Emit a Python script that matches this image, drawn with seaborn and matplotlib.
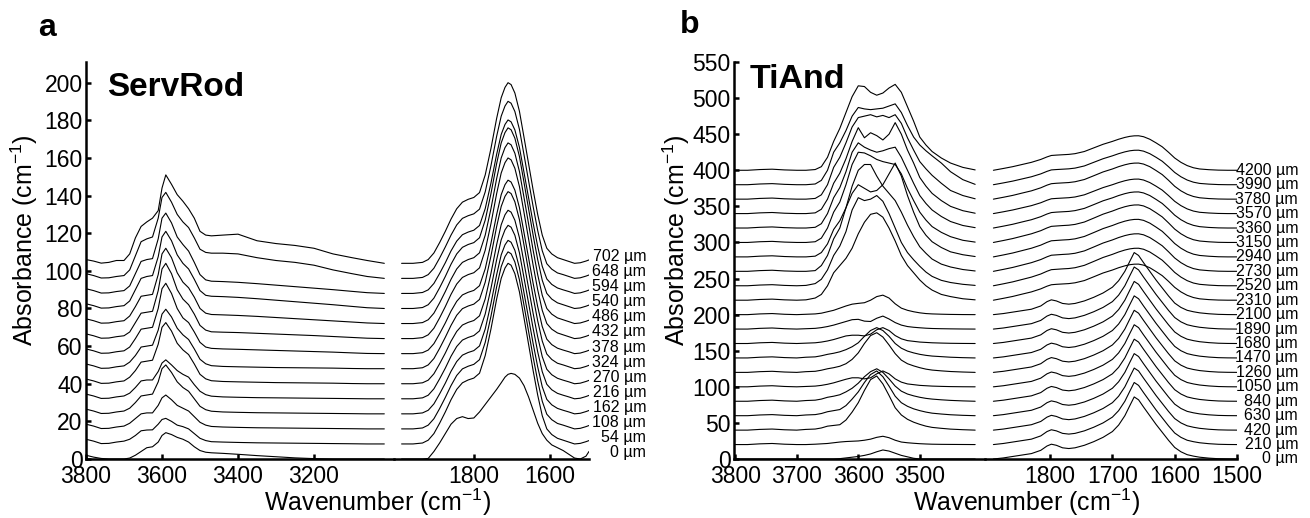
import numpy as np
import pandas as pd
import matplotlib
matplotlib.use("Agg")
import matplotlib.pyplot as plt
import seaborn as sns

# ------------------------------------------------------------------ data
# Panel a (ServRod): profile position (µm) and vertical stacking offset
A_THICK = [0, 54, 108, 162, 216, 270, 324, 378, 432, 486, 540, 594, 648, 702]
A_OFFSET = [0, 8, 16, 24, 32, 40, 48, 56, 64, 72, 80, 88, 96, 104]

A_WN_OH = [3800, 3780, 3760, 3740, 3720, 3700, 3685, 3670, 3655, 3640, 3625, 3610,
           3600, 3590, 3575, 3560, 3545, 3530, 3515, 3500, 3485, 3470, 3440, 3400,
           3350, 3300, 3250, 3200, 3150, 3100, 3060, 3015]
A_OH = [
    [2, 1, 0.3, 0, 0, 0, 0.5, 2, 4, 6, 6.5, 9, 12.5, 14, 13, 11.5, 10.5, 9, 6.5, 4.5, 3.6, 3.3, 3, 2.5, 1.8, 1.2, 0.6, 0.2, 0, 0, 0, 0],
    [2.5, 1.5, 0.2, 0.3, 1, 1.5, 2.5, 4.5, 7, 7.4, 7.5, 10.5, 13, 13.6, 12, 10, 9.2, 8, 5.5, 3, 1.8, 1.2, 1, 0.8, 0.6, 0.5, 0.4, 0.3, 0.2, 0.1, 0, 0],
    [2.5, 1.5, 0.2, 0.3, 1, 1.5, 3, 5.5, 8, 8.5, 8.5, 12.5, 16.5, 18, 15.5, 12.5, 11, 9.5, 6.5, 3.5, 2, 1.3, 1, 0.8, 0.6, 0.5, 0.4, 0.3, 0.2, 0.1, 0, 0],
    [2.5, 1.5, 0.2, 0.3, 1, 1.5, 3, 6, 9.5, 10, 10.5, 17, 24, 26, 22, 17, 14, 12, 8, 4, 2.2, 1.4, 1, 0.8, 0.6, 0.5, 0.4, 0.3, 0.2, 0.1, 0, 0],
    [2.5, 1.5, 0.2, 0.3, 1, 1.5, 3, 6, 9.5, 10, 10, 14.5, 19, 20.7, 18, 15, 13, 11.5, 7.5, 4, 2.2, 1.4, 1, 0.8, 0.6, 0.5, 0.4, 0.3, 0.2, 0.1, 0, 0],
    [2.5, 1.5, 0.2, 0.3, 1, 1.5, 3.5, 7, 11.5, 12, 12.5, 21, 30, 32.5, 28, 21.5, 18, 15.5, 10.5, 5, 2.6, 1.6, 1.2, 1, 0.8, 0.6, 0.5, 0.4, 0.3, 0.1, 0, 0],
    [2.5, 1.5, 0.2, 0.3, 1, 1.5, 3.5, 7, 11.5, 12, 12.5, 20.5, 29, 31.6, 27.5, 21.5, 18, 15.5, 10.5, 5, 2.6, 1.6, 1.2, 1, 0.8, 0.6, 0.5, 0.4, 0.3, 0.1, 0, 0],
    [2.5, 1.5, 0.2, 0.3, 1, 1.5, 3.5, 8, 13, 13.5, 14, 24, 34.5, 37.4, 32, 24, 19, 16.5, 11.5, 6, 3.5, 2.8, 2.5, 2.3, 2, 1.7, 1.4, 1.1, 0.8, 0.4, 0.1, 0],
    [2.5, 1.5, 0.2, 0.3, 1, 1.5, 3.5, 8.5, 13.5, 14, 14.5, 25.5, 37, 40, 34.5, 26, 21, 18, 13, 7, 4.5, 3.6, 3.4, 3.2, 2.8, 2.4, 2, 1.6, 1.1, 0.6, 0.2, 0],
    [2.5, 1.5, 0.2, 0.3, 1, 1.5, 4, 9, 14.5, 15, 15.5, 26, 37, 40, 35, 27, 22, 19, 14, 8, 5.5, 4.8, 4.6, 4.3, 3.8, 3.2, 2.6, 2, 1.4, 0.8, 0.3, 0],
    [2.5, 1.5, 0.2, 0.3, 1, 1.5, 4, 10, 16, 17, 17.5, 27.5, 38, 41, 36, 28.5, 24, 21, 15.5, 9.5, 7, 6.5, 6.3, 5.9, 5.2, 4.4, 3.6, 2.8, 2, 1.1, 0.4, 0],
    [2.5, 1.5, 0.2, 0.3, 1, 1.5, 4, 10.5, 17, 18, 18.5, 29, 40, 42.7, 37.5, 30, 26, 22.5, 16.5, 10, 7.2, 6.5, 6.3, 5.9, 5.2, 4.4, 3.6, 2.8, 2, 1.1, 0.4, 0],
    [2.5, 1.5, 0.2, 0.3, 1, 1.5, 4.5, 12, 19.5, 21, 22, 32, 43, 45.7, 40.5, 34, 30, 27, 21.5, 15.5, 13.8, 13.4, 13.4, 13, 11, 9.5, 8.5, 7, 4.5, 2.5, 1, 0],
    [2, 1.2, 0.1, 0.5, 1.5, 1.5, 5, 13.5, 19.6, 22, 24, 28, 40, 47, 42, 36.5, 33, 29, 24, 17, 15, 14.6, 15, 15.5, 12, 10.5, 9.5, 8, 5, 3, 1.5, 0],
]

A_WN_CO = [1990, 1960, 1935, 1920, 1905, 1890, 1875, 1860, 1845, 1830, 1815, 1800,
           1785, 1770, 1755, 1740, 1728, 1718, 1710, 1702, 1692, 1680, 1668, 1656,
           1644, 1632, 1620, 1608, 1595, 1580, 1565, 1550, 1535, 1520, 1505, 1497]
A_CO_100 = [0, 0, 0.5, 2, 5.5, 11, 17, 23.5, 29, 32.5, 34, 35, 37.6, 47, 61, 77, 88, 93.5, 96, 95, 90.5, 80.8, 67, 53, 39, 26, 15, 8, 5, 3, 2, 1, 0, 0.3, 1.2, 1.8]
A_CO_98 = [0, 0, 0.5, 2, 5.4, 10.8, 16.7, 23, 28.4, 31.9, 33.3, 34.3, 36.8, 46, 59.8, 75.5, 86.2, 91.6, 94.1, 93.1, 88.7, 79.2, 65.7, 51.9, 38.2, 25.5, 14.7, 7.8, 4.9, 2.9, 2, 1, 0, 0.3, 1.2, 1.8]
A_CO_96 = [0, 0, 0.5, 1.9, 5.3, 10.6, 16.3, 22.6, 27.8, 31.2, 32.6, 33.6, 36.1, 45.1, 58.6, 73.9, 84.5, 89.8, 92.2, 91.2, 86.9, 77.6, 64.3, 50.9, 37.4, 25, 14.4, 7.7, 4.8, 2.9, 1.9, 1, 0, 0.3, 1.2, 1.8]
A_CO_0UM = [0, 0, 0, 0.3, 4, 8.5, 13.5, 18.5, 21.5, 22.5, 21.5, 21.8, 25, 29, 33, 37, 40.5, 43.5, 45, 45.5, 45, 43, 39, 33, 26, 19, 13.5, 10, 7.5, 6, 4.5, 2.5, 0.5, 0, 1.5, 4]
A_CO = [A_CO_0UM, A_CO_100, A_CO_98, A_CO_96, A_CO_96, A_CO_96, A_CO_98, A_CO_96,
        A_CO_100, A_CO_100, A_CO_100, A_CO_96, A_CO_98, A_CO_100]

# Panel b (TiAnd)
B_THICK = [0, 210, 420, 630, 840, 1050, 1260, 1470, 1680, 1890, 2100, 2310, 2520,
           2730, 2940, 3150, 3360, 3570, 3780, 3990, 4200]
B_OFFSET = [0, 20, 40, 60, 80, 100, 120, 140, 160, 180, 200, 220, 240, 260, 280,
            300, 320, 340, 360, 380, 400]

B_WN_OH = [3800, 3780, 3760, 3740, 3720, 3700, 3685, 3670, 3660, 3650, 3640, 3630,
           3620, 3610, 3600, 3590, 3580, 3570, 3560, 3550, 3540, 3530, 3520, 3510,
           3500, 3490, 3480, 3465, 3450, 3430, 3410]
B_OH = [
    [0, 0, 0, 0, 0, 0, 0, 0, 0, 0, 0, 0.5, 1.5, 2.5, 3.5, 5, 7, 10, 12.5, 11, 8, 5, 3, 1, 0, 0, 0, 0, 0, 0, 0],
    [0, 0, 1, 1.5, 0.5, 0, 0, 0.5, 1, 1.5, 2.5, 3.5, 4.2, 4.6, 5, 6, 7.5, 10, 11.5, 9.5, 6, 3.5, 2.5, 1.8, 1.2, 0.8, 0.5, 0.3, 0.2, 0.1, 0],
    [0, 0, 1, 1.5, 0.5, 0, 1, 1.5, 3, 5.5, 6.5, 7.5, 14, 25, 38, 55, 70, 75, 64, 48, 31, 21, 15, 11, 8, 5.5, 3.8, 2.5, 1.4, 0.6, 0],
    [0, 0, 1, 1.5, 0.5, 0, 1, 1.5, 3, 5.5, 7, 8.5, 14, 23, 33, 46, 57, 62, 54, 41, 27, 18, 13, 9.5, 7, 5, 3.5, 2.3, 1.3, 0.5, 0],
    [0, 0, 1, 1.5, 0.5, 0, 1, 1.5, 3, 5.5, 7, 9, 13, 18, 25, 34, 41, 45, 40, 31, 21, 14, 10, 7.5, 5.5, 4, 3, 2, 1.2, 0.5, 0],
    [0, 0, 1, 1.5, 0.5, 0, 0.5, 1, 2, 3.5, 5.5, 8, 10.5, 12.5, 12.5, 11, 12.5, 18, 22, 18, 11, 6.5, 4, 3, 2, 1.5, 1, 0.6, 0.3, 0.1, 0],
    [0, 0, 1, 1.5, 0.5, 0, 1, 1.5, 3, 5, 6.5, 8.5, 12, 18, 27, 40, 51, 55, 49, 38, 26, 17, 12, 9, 6.5, 4.5, 3.2, 2.1, 1.2, 0.5, 0],
    [0, 0, 1, 1.5, 0.5, 0, 1, 1.5, 3, 5, 6.5, 8.5, 11.5, 15.5, 21, 30, 38, 42, 38, 30, 20, 13.5, 9.5, 7, 5, 3.6, 2.6, 1.8, 1, 0.4, 0],
    [0, 0, 1, 1.5, 0.5, 0, 0.5, 1, 2, 3.5, 5.5, 8, 10.5, 11.5, 11.5, 10.5, 13, 19, 22, 18, 11, 6.5, 4, 3, 2, 1.5, 1, 0.6, 0.3, 0.1, 0],
    [0, 0, 1, 1.5, 0.5, 0, 0.5, 1, 2, 3.5, 5.5, 8, 10.5, 13, 13.5, 11, 10.5, 15, 18, 14, 9, 5.5, 3.5, 2.5, 1.8, 1.2, 0.8, 0.5, 0.3, 0.1, 0],
    [0, 0, 1, 1.5, 0.5, 0, 0.5, 1, 2, 4, 6, 9, 12, 14.5, 15.6, 16.5, 20, 25, 27, 23, 15, 9, 6, 4, 2.5, 1.5, 1, 0.6, 0.3, 0.1, 0],
    [0, 0, 1, 1.5, 0.5, 0, 0.5, 3, 8, 20, 38, 48, 58, 72, 92, 108, 119, 121, 115, 100, 82, 62, 48, 38, 28, 20, 14, 8, 5, 2, 0.5],
    [0, 0, 1, 1.5, 0.5, 0, 0.5, 3, 9, 22, 42, 55, 75, 105, 122, 118, 120, 125, 117, 100, 80, 60, 46, 36, 27, 19, 13, 7.5, 4.5, 2, 0.5],
    [0, 0, 1, 1.5, 0.5, 0, 0, 1, 8, 22, 45, 60, 88, 118, 140, 148, 148, 132, 118, 108, 98, 82, 64, 48, 34, 25, 17, 10, 6, 2.5, 0.5],
    [0, 0, 1, 1.5, 0.5, 0, 0, 1, 6, 18, 38, 50, 68, 88, 100, 95, 90, 92, 100, 115, 130, 112, 85, 62, 42, 30, 21, 13, 7, 3, 0.5],
    [0, 0, 1, 1.5, 0.5, 0, 0, 1, 6, 20, 42, 56, 80, 108, 125, 124, 120, 115, 112, 110, 108, 95, 75, 58, 42, 31, 22, 14, 8, 3, 0.5],
    [0, 0, 1, 1.5, 0.5, 0, 0, 1, 6, 20, 42, 56, 78, 105, 118, 112, 108, 105, 107, 110, 112, 98, 80, 62, 45, 34, 25, 16, 9, 3.5, 0.5],
    [0, 0, 1, 1.5, 0.5, 0, 0, 1, 6, 20, 42, 56, 76, 100, 119, 105, 112, 108, 102, 110, 126, 110, 88, 70, 50, 38, 28, 18, 10, 4, 0.5],
    [0, 0, 1, 1.5, 0.5, 0, 0, 1, 6, 20, 44, 58, 78, 100, 113, 115, 117, 114, 116, 113, 117, 105, 85, 68, 52, 42, 33, 22, 12, 5, 0.5],
    [0, 0, 1, 1.5, 0.5, 0, 0, 1, 6, 20, 45, 58, 75, 95, 107, 105, 104, 105, 106, 109, 112, 100, 82, 66, 55, 47, 40, 30, 18, 7, 0.5],
    [0, 0, 1, 1.5, 0.5, 0, 0, 1, 5, 18, 40, 58, 80, 102, 117, 116, 108, 104, 107, 114, 119, 108, 88, 68, 46, 35, 26, 17, 10, 4, 0.5],
]

B_WN_CO = [1891, 1875, 1860, 1845, 1830, 1815, 1805, 1798, 1790, 1780, 1770, 1760,
           1745, 1730, 1715, 1700, 1690, 1680, 1672, 1665, 1658, 1650, 1640, 1630,
           1620, 1610, 1600, 1590, 1580, 1570, 1560, 1545, 1530, 1515, 1500]
B_CO_SHARP = [0, 1.5, 3.5, 5.5, 7.5, 12, 18, 20.5, 19, 15.5, 14.5, 15.5, 19, 24, 30, 38, 47, 60, 74, 86, 82, 72, 60, 48, 37, 26, 16, 10, 6, 4, 2.5, 1.2, 0.4, 0.1, 0]
B_CO_BROAD48 = [0, 2.5, 5, 8, 11, 15, 18.5, 20.5, 21, 21.5, 22, 23, 26, 31, 36, 40, 43, 45.5, 47, 47.7, 47.8, 46.5, 43, 38, 32.5, 25, 17, 11, 6.5, 3.5, 1.8, 0.8, 0.2, 0, 0]
B_CO_BROAD50 = [0, 2.6, 5.2, 8.4, 11.5, 15.7, 19.4, 21.4, 22, 22.5, 23, 24.1, 27.2, 32.4, 37.7, 41.8, 45, 47.6, 49.2, 49.9, 50, 48.6, 45, 39.7, 34, 26.2, 17.8, 11.5, 6.8, 3.7, 1.9, 0.8, 0.2, 0, 0]
B_CO_BROAD52 = [0, 2.7, 5.4, 8.7, 12, 16.3, 20.1, 22.3, 22.8, 23.4, 23.9, 25, 28.3, 33.7, 39.2, 43.5, 46.8, 49.5, 51.1, 51.9, 52, 50.6, 46.8, 41.3, 35.4, 27.2, 18.5, 12, 7.1, 3.8, 2, 0.9, 0.2, 0, 0]
B_CO = [B_CO_SHARP] * 11 + [B_CO_BROAD50, B_CO_BROAD52, B_CO_BROAD52, B_CO_BROAD52,
                            B_CO_BROAD52, B_CO_BROAD50, B_CO_BROAD48, B_CO_BROAD50,
                            B_CO_BROAD48, B_CO_BROAD48]

A_XTICKS_OH = [3800, 3600, 3400, 3200]
A_XTICKS_CO = [1800, 1600]
B_XTICKS_OH = [3800, 3700, 3600, 3500]
B_XTICKS_CO = [1800, 1700, 1600, 1500]
A_YTICKS = list(range(0, 201, 20))
B_YTICKS = list(range(0, 551, 50))


def long_table(wn, rows, offsets):
    recs = []
    for k, (row, off) in enumerate(zip(rows, offsets)):
        for w, v in zip(wn, row):
            recs.append((k, w, v + off))
    return pd.DataFrame(recs, columns=["spec", "wn", "absorbance"])


# ------------------------------------------------------------------ style
sns.set_style("ticks")
plt.rcParams["font.family"] = ["Liberation Sans", "DejaVu Sans"]
plt.rcParams["mathtext.fontset"] = "custom"
plt.rcParams["mathtext.rm"] = "Liberation Sans"
plt.rcParams["mathtext.it"] = "Liberation Sans:italic"
plt.rcParams["mathtext.bf"] = "Liberation Sans:bold"
for key in ["text.color", "axes.labelcolor", "xtick.color", "ytick.color", "axes.edgecolor"]:
    plt.rcParams[key] = "black"
NARROW = ["Liberation Sans Narrow", "Liberation Sans", "DejaVu Sans"]

W, H = 1310, 518
fig = plt.figure(figsize=(W / 100, H / 100), dpi=100)


def frac_axes(x0, x1, ytop, ybot):
    return fig.add_axes([x0 / W, 1 - ybot / H, (x1 - x0) / W, (ybot - ytop) / H])


def style_axis(ax, xticks, left_spine):
    for s in ["top", "right"]:
        ax.spines[s].set_visible(False)
    ax.spines["left"].set_visible(left_spine)
    ax.spines["bottom"].set_linewidth(1.8)
    ax.spines["left"].set_linewidth(1.8)
    ax.set_xticks(xticks)
    ax.tick_params(axis="both", direction="in", length=3.6, width=1.8,
                   labelsize=16.5, colors="black")
    ax.tick_params(axis="x", pad=4.5)
    ax.tick_params(axis="y", pad=2.5)
    if not left_spine:
        ax.tick_params(axis="y", left=False, labelleft=False)
    ax.set_xlabel("")
    ax.set_ylabel("")
    ax.set_facecolor("none")


def draw(ax, wn, rows, offsets):
    df = long_table(wn, rows, offsets)
    sns.lineplot(data=df, x="wn", y="absorbance", units="spec", estimator=None,
                 color="black", linewidth=0.8, ax=ax, legend=False)


# ---- panel a
axa1 = frac_axes(86, 394, 62, 459)
axa2 = frac_axes(394, 589, 62, 459)
draw(axa1, A_WN_OH, A_OH, A_OFFSET)
draw(axa2, A_WN_CO, A_CO, A_OFFSET)
for ax in (axa1, axa2):
    ax.set_ylim(0, 211)
axa1.set_xlim(3800, 2989.5)
axa2.set_xlim(2010, 1497)
style_axis(axa1, A_XTICKS_OH, True)
style_axis(axa2, A_XTICKS_CO, False)
axa1.set_yticks(A_YTICKS)
for t, off in zip(A_THICK, A_OFFSET):
    axa2.text(1347, off + 3.5, f"{t} µm", ha="right", va="center", fontsize=11.5,
              family=NARROW, color="black", clip_on=False)

# ---- panel b
axb1 = frac_axes(734, 985, 62, 459)
axb2 = frac_axes(985, 1237, 62, 459)
draw(axb1, B_WN_OH, B_OH, B_OFFSET)
draw(axb2, B_WN_CO, B_CO, B_OFFSET)
for ax in (axb1, axb2):
    ax.set_ylim(0, 550)
axb1.set_xlim(3802, 3394)
axb2.set_xlim(1904.5, 1500)
style_axis(axb1, B_XTICKS_OH, True)
style_axis(axb2, B_XTICKS_CO, False)
axb1.set_yticks(B_YTICKS)
for t, off in zip(B_THICK, B_OFFSET):
    axb2.text(1402, off, f"{t} µm", ha="right", va="center", fontsize=11.5,
              family=NARROW, color="black", clip_on=False)

# ---- texts
fig.text(47 / W, 1 - 28 / H, "a", fontsize=23, fontweight="bold", ha="center", va="center")
fig.text(690 / W, 1 - 25 / H, "b", fontsize=23, fontweight="bold", ha="center", va="center")
fig.text(107 / W, 1 - 87 / H, "ServRod", fontsize=24, fontweight="bold", ha="left", va="center")
fig.text(750 / W, 1 - 79 / H, "TiAnd", fontsize=24.5, fontweight="bold", ha="left", va="center")
fig.text(378 / W, 1 - 502 / H, r"Wavenumber (cm$^{\mathregular{-1}}$)", fontsize=18,
         ha="center", va="center")
fig.text(1027 / W, 1 - 502 / H, r"Wavenumber (cm$^{\mathregular{-1}}$)", fontsize=18,
         ha="center", va="center")
fig.text(24 / W, 1 - 240 / H, r"Absorbance (cm$^{\mathregular{-1}}$)", fontsize=18,
         rotation=90, ha="center", va="center")
fig.text(676 / W, 1 - 240 / H, r"Absorbance (cm$^{\mathregular{-1}}$)", fontsize=18,
         rotation=90, ha="center", va="center")

fig.savefig("out.png", dpi=100)
